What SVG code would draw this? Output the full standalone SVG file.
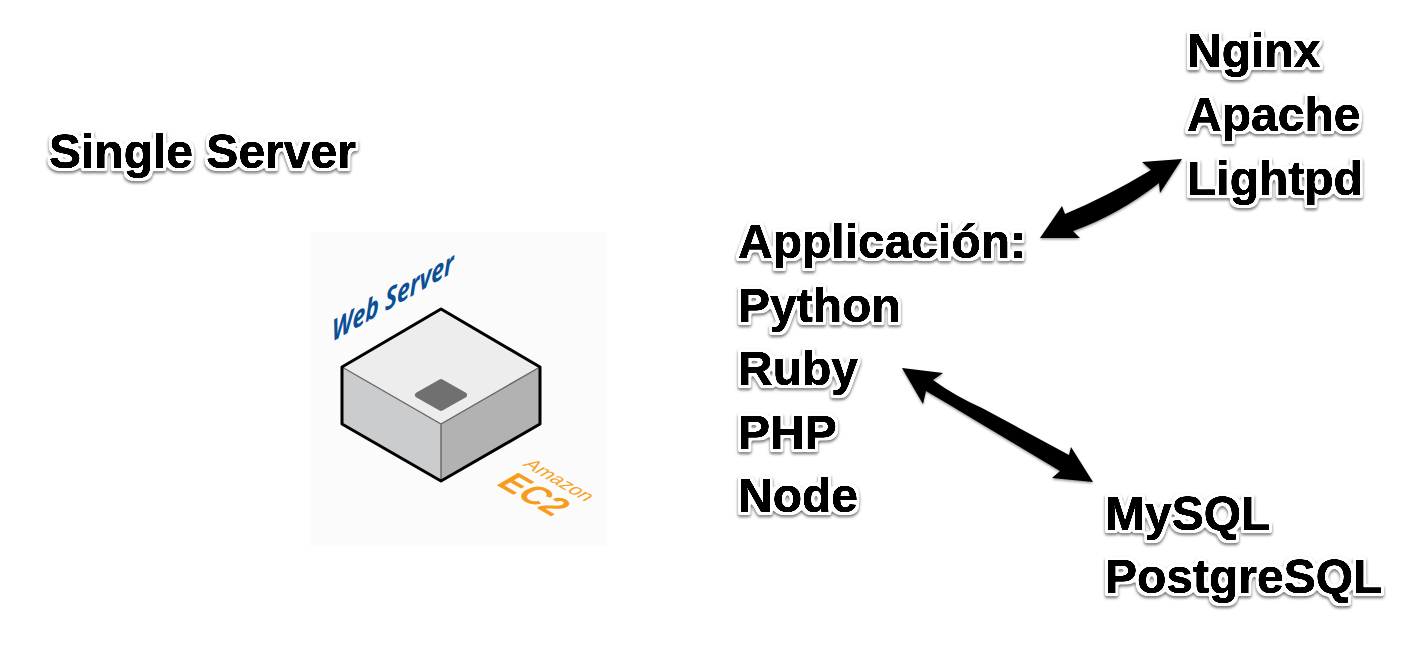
<svg xmlns="http://www.w3.org/2000/svg" width="1402" height="660" viewBox="0 0 1402 660">
<defs>
<filter id="soft" x="-10%" y="-25%" width="120%" height="150%" color-interpolation-filters="sRGB">
<feGaussianBlur in="SourceAlpha" stdDeviation="0.45" result="b"/>
<feComponentTransfer in="b" result="bold"><feFuncA type="linear" slope="3"/></feComponentTransfer>
<feMorphology in="SourceAlpha" operator="dilate" radius="3" result="d"/>
<feGaussianBlur in="d" stdDeviation="1" result="db"/>
<feComponentTransfer in="db" result="ha"><feFuncA type="linear" slope="4" intercept="-1.2"/></feComponentTransfer>
<feFlood flood-color="#fff"/><feComposite in2="ha" operator="in" result="halo"/>
<feGaussianBlur in="ha" stdDeviation="1.5"/><feOffset dy="2"/>
<feComponentTransfer result="sh"><feFuncA type="linear" slope="0.55"/></feComponentTransfer>
<feMerge><feMergeNode in="sh"/><feMergeNode in="halo"/><feMergeNode in="bold"/></feMerge>
</filter>
<filter id="arrowShadow" x="-10%" y="-10%" width="120%" height="120%"><feDropShadow dx="0" dy="1.5" stdDeviation="1" flood-color="#000" flood-opacity="0.4"/></filter>
</defs>
<style>
.t{font-family:"Liberation Sans",Arial,sans-serif;font-weight:700;font-size:48px;fill:#000;filter:url(#soft)}
.arrow{fill:#000;filter:url(#arrowShadow)}
.edge{fill:none;stroke:#000;stroke-width:3;stroke-linejoin:round}
.thin{fill:none;stroke:#666;stroke-width:1.4}
</style>
<rect width="1402" height="660" fill="#fff"/>
<g id="title"><text class="t" x="49" y="168">Single Server</text></g>
<g id="server">
<rect x="310" y="232" width="297" height="314" fill="#fbfbfb"/>
<polygon points="342,367 441,309 540,367 441,424" fill="#ededed"/>
<polygon points="342,367 441,424 441,481 342,424" fill="#cbcccd"/>
<polygon points="441,424 540,367 540,424 441,481" fill="#b2b2b3"/>
<polygon points="418,395 441,382 464,395 441,408" fill="#707070" stroke="#707070" stroke-width="6" stroke-linejoin="round"/>
<path class="thin" d="M342,367 441,424 540,367M441,424V481"/>
<path class="edge" d="M441,309 540,367V424L441,481 342,424V367Z"/>
<text transform="matrix(0.85,-0.49,0,1.1,332,342)" font-family="'Open Sans',sans-serif" font-style="italic" font-weight="700" font-size="27" fill="#0b4f96">Web Server</text>
<text transform="matrix(0.72,0.42,-0.7,0.42,522,465)" font-family="'Liberation Sans',sans-serif" font-size="24" fill="#f7a325">Amazon</text>
<text transform="matrix(0.866,0.5,-0.92,0.53,495,484)" font-family="'Liberation Sans',sans-serif" font-weight="700" font-size="34" fill="#f79c1c">EC2</text>
</g>
<g id="app">
<text class="t" x="738" y="258">Applicación:</text>
<text class="t" x="738" y="322">Python</text>
<text class="t" x="738" y="385">Ruby</text>
<text class="t" x="738" y="449">PHP</text>
<text class="t" x="738" y="512">Node</text>
</g>
<g id="web">
<text class="t" x="1187" y="67">Nginx</text>
<text class="t" x="1187" y="131">Apache</text>
<text class="t" x="1187" y="195">Lightpd</text>
</g>
<g id="db">
<text class="t" x="1105" y="530">MySQL</text>
<text class="t" x="1105" y="593">PostgreSQL</text>
</g>
<g id="connectors">
<path class="arrow" d="M1182,159 1142,162 1151,170Q1108,196 1065,214L1062,206 1040,238 1080,238 1073,231Q1118,215 1159,183L1160,193Z"/>
<path class="arrow" d="M902,368 943,373 933,380Q955,396 982,408L1069,455 1071,447 1093,482 1052,478 1060,471 973,419Q950,405 926,391L923,404Z"/>
</g>
</svg>
